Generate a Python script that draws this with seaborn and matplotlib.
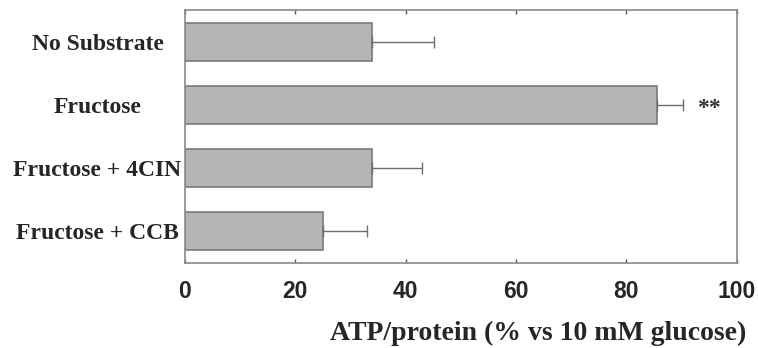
import matplotlib
matplotlib.use("Agg")
import matplotlib.pyplot as plt
import numpy as np
import pandas as pd
import seaborn as sns

# values
conditions = ["No Substrate", "Fructose", "Fructose + 4CIN", "Fructose + CCB"]
atp_mean = [33.9, 85.5, 33.9, 25.0]
atp_sem = [11.2, 4.7, 9.1, 8.0]
marks = ["", "**", "", ""]

df = pd.DataFrame({"condition": conditions, "atp": atp_mean})

sns.set_style("white")
fig = plt.figure(figsize=(7.58, 3.48), dpi=100)
ax = fig.add_axes([0.244, 0.244, 0.728, 0.727])

sns.barplot(data=df, x="atp", y="condition", orient="h", color="#b5b5b5",
            edgecolor="#7a7a7a", linewidth=1.2, width=0.6, saturation=1,
            errorbar=None, ax=ax)

ypos = np.arange(len(conditions))
ax.errorbar(atp_mean, ypos, xerr=[np.zeros(len(atp_sem)), atp_sem],
            fmt="none", ecolor="#6e6e6e", elinewidth=1.0, capsize=4, capthick=1.0)

for y, x, s, m in zip(ypos, atp_mean, atp_sem, marks):
    if m:
        ax.text(95, y + 0.05, m, ha="center", va="center", fontsize=17,
                family="Liberation Serif", fontweight="bold", color="#333333")

ax.set_xlim(0, 100)
ax.set_ylim(3.5, -0.5)
ax.set_xticks([0, 20, 40, 60, 80, 100])
ax.set_xticklabels(["0", "20", "40", "60", "80", "100"],
                   family="Liberation Sans", fontweight="bold", fontsize=16.5)
ax.set_yticks(ypos)
ax.set_yticklabels(conditions, family="Liberation Serif", fontweight="bold",
                   fontsize=17, ha="center")
ax.tick_params(axis="x", direction="in", top=True, bottom=True, length=3,
               width=1, color="#555555", pad=12)
# labels centred in the left margin, as in the original figure
ax.tick_params(axis="y", length=0, pad=63)
ax.set_ylabel("")
ax.set_xlabel("ATP/protein (% vs 10 mM glucose)", family="Liberation Serif",
              fontweight="bold", fontsize=20)
ax.xaxis.label.set_va("center")
ax.xaxis.set_label_coords(0.641, -0.277)

for sp in ax.spines.values():
    sp.set_color("#8a8a8a")
    sp.set_linewidth(1.2)

fig.savefig("out.png", dpi=100)
